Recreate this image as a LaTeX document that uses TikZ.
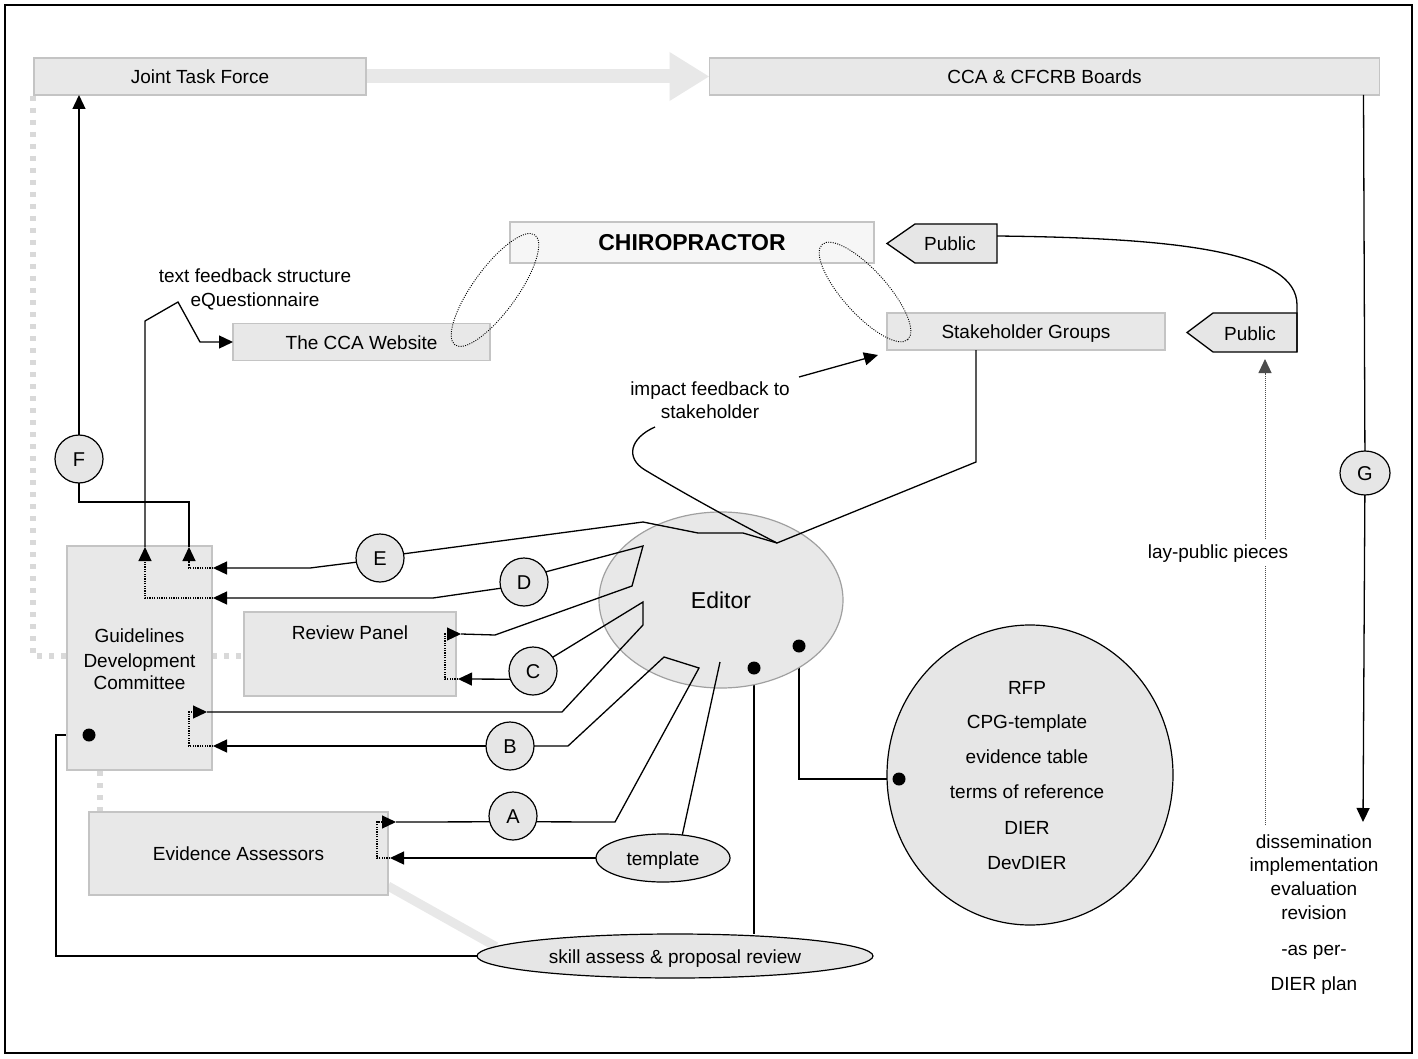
\documentclass[tikz,border=0pt]{standalone}
\usepackage{fontspec}
\setmainfont{Liberation Sans}
\usetikzlibrary{arrows.meta,shapes.geometric}
\pgfdeclarelayer{bg}
\pgfsetlayers{bg,main}
\definecolor{boxfill}{HTML}{E8E8E8}
\definecolor{boxline}{HTML}{C4C4C4}
\definecolor{chfill}{HTML}{F6F6F6}
\definecolor{ovfill}{HTML}{E6E6E6}
\definecolor{edline}{HTML}{A0A0A0}
\definecolor{gdashcol}{HTML}{D9D9D9}
\definecolor{bigarrowcol}{HTML}{E8E8E8}
\begin{document}
\begin{tikzpicture}[x=1pt,y=-1pt,
  every node/.style={font=\fontsize{19}{23}\selectfont, inner sep=0pt, outer sep=0pt},
  box/.style={draw=boxline, fill=boxfill, line width=1.2pt, rectangle, text height=14pt, text depth=0pt},
  oval/.style={draw=black, fill=ovfill, line width=1.2pt, ellipse, text height=14pt, text depth=0pt},
  letter/.style={draw=black, fill=ovfill, line width=1.2pt, circle, minimum size=48pt, text height=14pt, text depth=0pt, font=\fontsize{20}{22}\selectfont},
  lbl/.style={anchor=base},
  conn/.style={line width=1.3pt, draw=black},
  arrowed/.style={-{Triangle[length=14pt,width=13pt]}},
  passdot/.style={line width=1.1pt, draw=black, dash pattern=on 1.2pt off 1.2pt},
  gdash/.style={draw=gdashcol, line width=5.5pt, dash pattern=on 5pt off 7pt},
  bdot/.style={circle, fill=black, minimum size=13pt},
  pubshape/.style={draw=black, fill=ovfill, line width=1.3pt, line join=miter},
  dotov/.style={draw=black, line width=0.9pt, dash pattern=on 1pt off 1.3pt, ellipse},
]
\useasboundingbox (0,0) rectangle (1418,1059);
\begin{pgfonlayer}{bg}
\fill[white] (0,0) rectangle (1418,1059);
\draw[line width=1.6pt] (5,5) rectangle (1412,1053);
\end{pgfonlayer}

% ---------- boxes ----------
\node[box, minimum width=332pt, minimum height=37pt] (jtf) at (200,76.5) {Joint Task Force};
\node[box, minimum width=670pt, minimum height=37pt] (boards) at (1044.5,76.5) {CCA \& CFCRB Boards};
\node[box, fill=chfill, minimum width=364pt, minimum height=41pt, text height=17pt, font=\bfseries\fontsize{23}{26}\selectfont] (chiro) at (692,242.5) {CHIROPRACTOR};
\node[box, minimum width=257pt, minimum height=37pt] (web) at (361.5,342) {The CCA Website};
\node[box, minimum width=278pt, minimum height=37pt] (stake) at (1026,331.5) {Stakeholder Groups};
\node[box, minimum width=145pt, minimum height=224pt] (gdc) at (139.5,658) {};
\node[box, minimum width=212pt, minimum height=84pt] (review) at (350,654) {};
\node[box, minimum width=299pt, minimum height=83pt] (ea) at (238.5,853.5) {Evidence Assessors};

\node[lbl] (gdc1) at (139.5,642) {Guidelines};
\node[lbl] (gdc2) at (139.5,667) {Development};
\node[lbl] (gdc3) at (139.5,689) {Committee};
\node[lbl] (rev1) at (350,639) {Review Panel};

% ---------- ovals ----------
\node[ellipse, draw=edline, fill=boxfill, line width=1.2pt, minimum width=244pt, minimum height=176pt, text height=17pt, text depth=0pt, font=\fontsize{23}{26}\selectfont] (editor) at (721,600) {Editor};
\node[oval, minimum width=286pt, minimum height=300pt] (rfp) at (1030,775) {};
\node[oval, minimum width=134pt, minimum height=48pt] (tmpl) at (663,858) {template};
\node[oval, minimum width=396pt, minimum height=44pt] (skill) at (675,956) {skill assess \& proposal review};

\node[lbl] (rfp1) at (1027,694) {RFP};
\node[lbl] (rfp2) at (1027,728) {CPG-template};
\node[lbl] (rfp3) at (1027,763) {evidence table};
\node[lbl] (rfp4) at (1027,798) {terms of reference};
\node[lbl] (rfp5) at (1027,834) {DIER};
\node[lbl] (rfp6) at (1027,869) {DevDIER};

% ---------- letter circles ----------
\node[letter] (A) at (513,816) {A};
\node[letter] (B) at (510,746) {B};
\node[letter] (C) at (533,671) {C};
\node[letter] (D) at (524,582) {D};
\node[letter] (E) at (380,558) {E};
\node[letter] (F) at (79,459) {F};
\node[letter, ellipse, minimum width=50pt, minimum height=44pt] (G) at (1365,473) {G};

% ---------- Public shapes ----------
\draw[pubshape] (887,243.5) -- (915,224) -- (997,224) -- (997,263) -- (915,263) -- cycle;
\node (pub1) at (950,244) [text height=14pt, text depth=0pt] {Public};
\draw[pubshape] (1187,332.5) -- (1213,313) -- (1297,313) -- (1297,352) -- (1213,352) -- cycle;
\node (pub2) at (1250,333) [text height=14pt, text depth=0pt] {Public};

% ---------- free texts ----------
\node[lbl] (tfs1) at (255,283) {text feedback structure};
\node[lbl] (tfs2) at (255,306) {eQuestionnaire};
\node[lbl] (imp1) at (710,395) {impact feedback to};
\node[lbl] (imp2) at (710,418) {stakeholder};
\node[lbl] (dis1) at (1314,848) {dissemination};
\node[lbl] (dis2) at (1314,871) {implementation};
\node[lbl] (dis3) at (1314,895) {evaluation};
\node[lbl] (dis4) at (1314,919) {revision};
\node[lbl] (dis5) at (1314,955) {-as per-};
\node[lbl] (dis6) at (1314,990) {DIER plan};

% ---------- named points ----------
\coordinate (hub) at (777,543);
\coordinate (gE) at (213,568);
\coordinate (gEup) at (189,547);
\coordinate (gD) at (213,598);
\coordinate (gDup) at (145,547);
\coordinate (gCout) at (207,712);
\coordinate (gB) at (213,746);
\coordinate (rpC) at (458,679);
\coordinate (rpOut) at (461,634);
\coordinate (eaIn) at (390,858);
\coordinate (eaOut) at (396,822);
\coordinate (edT) at (720,662);
\coordinate (impOut) at (799,377);
\coordinate (impStart) at (655,427);
\coordinate (p1r) at (997,236);
\coordinate (dissTop) at (1363,822);
\coordinate (layBot) at (1265,825);
\coordinate (pub2in) at (1265,359);

% ---------- background connectors ----------
\begin{pgfonlayer}{bg}
\draw[bigarrowcol, line width=14pt, -{Triangle[length=40pt,width=46pt]}] (jtf.east) -- (boards.west);
\draw[gdash] (33,96) -- (33,656) -- (gdc.west |- 0,656);
\draw[gdash] (gdc.east |- 0,656) -- (review.west |- 0,656);
\draw[gdash] (100,771) -- (ea.north -| 100,0);
\draw[draw=bigarrowcol, line width=9pt] ([yshift=9pt]ea.south east) -- (skill.177);
\end{pgfonlayer}

% ---------- top connectors ----------
\draw[conn, arrowed] (F) -- (F |- jtf.south);
\draw[conn] ([xshift=-16pt]boards.south east) -- (G);
\draw[conn, arrowed] (G) -- (dissTop);

% F return path from GDC
\draw[passdot, arrowed] (gE) -- (189,568) -- (gEup);
\draw[conn] (gEup) -- (189,502) -- (79,502) -- (F);

% website path from GDC
\draw[passdot, arrowed] (gD) -- (145,598) -- (gDup);
\draw[conn, arrowed] (gDup) -- (145,321) -- (178,302) -- (200,342) -- (web.west);

% dotted ovals
\node[dotov, minimum width=136pt, minimum height=44pt, rotate=54] (ov1) at (495,290) {};
\node[dotov, minimum width=128pt, minimum height=44pt, rotate=-48] (ov2) at (865,292) {};

% public curve and lay-public arrow
\draw[conn] (p1r) .. controls (1180,238) and (1297,252) .. (1297,305) -- (1297,352);
\draw[line width=1pt, draw=black!70, dash pattern=on 1pt off 1pt, arrowed] (layBot) -- (pub2in);
\node[fill=white, inner sep=4pt, text height=14pt, text depth=4pt] (lay) at (1218,553) {lay-public pieces};

% stakeholder feedback
\draw[conn] ([xshift=-50pt]stake.south) -- (976,462) -- (hub);
\draw[conn] (impStart) .. controls (630,438) and (625,458) .. (645,470) .. controls (690,497) and (740,524) .. (hub);
\draw[conn, arrowed] (impOut) -- (878,355);

% E
\draw[conn] (hub) -- (743,533) -- (698,533) -- (643,522) -- (E.10);
\draw[conn, arrowed] (E.190) -- (310,568) -- (gE);

% D
\draw[passdot, arrowed] (rpC) -- (445,679) -- (445,634) -- (rpOut);
\draw[conn] (rpOut) -- (495,635) -- (632,586) -- (643,546) -- (D.25);
\draw[conn, arrowed] (D.195) -- (433,598) -- (gD);

% C
\draw[passdot, arrowed] (gB) -- (189,746) -- (189,712) -- (gCout);
\draw[conn] (gCout) -- (562,712) -- (643,625) -- (643,602) -- (C.35);
\draw[conn, arrowed] (C.200) -- (rpC);

% B / A
\draw[conn, arrowed] (B.west) -- (gB);
\draw[passdot, arrowed] (eaIn) -- (377,858) -- (377,822) -- (eaOut);
\draw[conn] (eaOut) -- (A.194);
\draw[conn] (A.-14) -- (615,822) -- (699,668) -- (664,657) -- (568,746) -- (B.east);

% template
\draw[conn] (edT) -- (tmpl.50);
\draw[conn, arrowed] (tmpl.west) -- (eaIn);

% dots
\node[bdot] (d1) at (754,668) {};
\node[bdot] (d2) at (799,646) {};
\node[bdot] (d3) at (899,779) {};
\node[bdot] (d4) at (89,735) {};
\begin{pgfonlayer}{bg}
\draw[conn] (d1.center) -- (d1.center |- skill.north);
\draw[conn] (d2.center) -- (799,779) -- (d3.center);
\draw[conn] (d4.center) -- (56,735) -- (56,956) -- (skill.west);
\end{pgfonlayer}
\end{tikzpicture}
\end{document}
